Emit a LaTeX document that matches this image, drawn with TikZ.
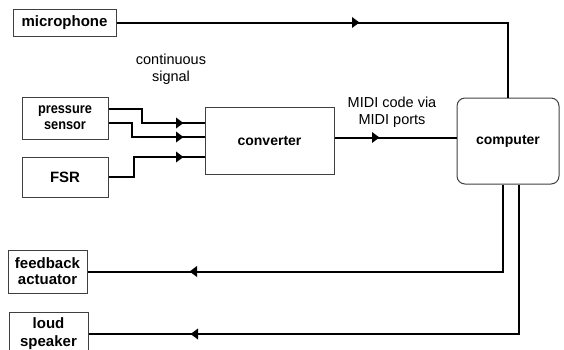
\documentclass[tikz,border=0pt]{standalone}
\usepackage{fontspec}
\setmainfont{Liberation Sans}
\newfontfamily\narrowfont[FakeStretch=0.88]{Liberation Sans}
\usetikzlibrary{arrows.meta,decorations.markings}

\tikzset{
    diag box/.style={
      draw=black!75,
      line width=1pt,
      inner sep=0pt,
      align=center,
      font=\bfseries\fontsize{14}{16}\selectfont
    },
    diag line/.style={
      draw=black,
      line width=2pt
    },
    diag label/.style={
      align=center,
      font=\fontsize{14.5}{17.5}\selectfont
    },
    tip at/.style={
      postaction={decorate,decoration={markings,
        mark=at position #1 with {\arrow{Triangle[length=7.5pt,width=10.5pt]}}}}
    }
  }

\begin{document}
\begin{tikzpicture}[x=1pt,y=-1pt]
      \useasboundingbox (0,0) rectangle (564,349);

      % ブロック
      \node[diag box, minimum width=103pt, minimum height=27pt,
        font=\bfseries\fontsize{15}{17}\selectfont] (mic) at (64.5,22.5) {microphone};
      \node[diag box, minimum width=86pt, minimum height=42pt,
        font=\narrowfont\bfseries\fontsize{14.5}{16}\selectfont] (press) at (65,118) {pressure\\sensor};
      \node[diag box, minimum width=86pt, minimum height=40pt,
        font=\bfseries\fontsize{15}{17}\selectfont] (fsr) at (65,177) {FSR};
      \node[diag box, minimum width=129pt, minimum height=67pt] (conv) at (269.5,140.5) {converter};
      \node[diag box, rounded corners=8pt, minimum width=102pt, minimum height=86pt] (comp) at (508,141) {computer};
      \node[diag box, minimum width=79pt, minimum height=43pt,
        font=\bfseries\fontsize{15}{16}\selectfont] (fb) at (47.5,271.5) {feedback\\actuator};
      \node[diag box, minimum width=79pt, minimum height=44pt,
        font=\bfseries\fontsize{15}{18}\selectfont] (loud) at (48.5,334) {loud\\speaker};

      % 接続線
      \draw[diag line, tip at=243pt] (mic.east) -| (comp.north);
      \draw[diag line, tip at=-21pt] ([yshift=9pt]press.east) -- ++(33,0) |- ([yshift=17.5pt]conv.west);
      \draw[diag line, tip at=-21pt] ([yshift=-5pt]press.east) -- ++(23,0) |- ([yshift=3.5pt]conv.west);
      \draw[diag line, tip at=-21pt] (fsr.east) -- ++(25,0) |- ([yshift=-16.5pt]conv.west);
      \draw[diag line, tip at=45pt] ([yshift=3pt]conv.east) -- ([yshift=3pt]conv.east -| comp.west);
      \draw[diag line, tip at=-102pt] ([xshift=-5pt]comp.south) |- (fb.east);
      \draw[diag line, tip at=-102pt] ([xshift=11pt]comp.south) |- (loud.east);

      % ラベル
      \node[diag label] (cont) at (171,69) {continuous\\signal};
      \node[diag label] (midi) at (392,112) {MIDI code via\\MIDI ports};
    \end{tikzpicture}
\end{document}
